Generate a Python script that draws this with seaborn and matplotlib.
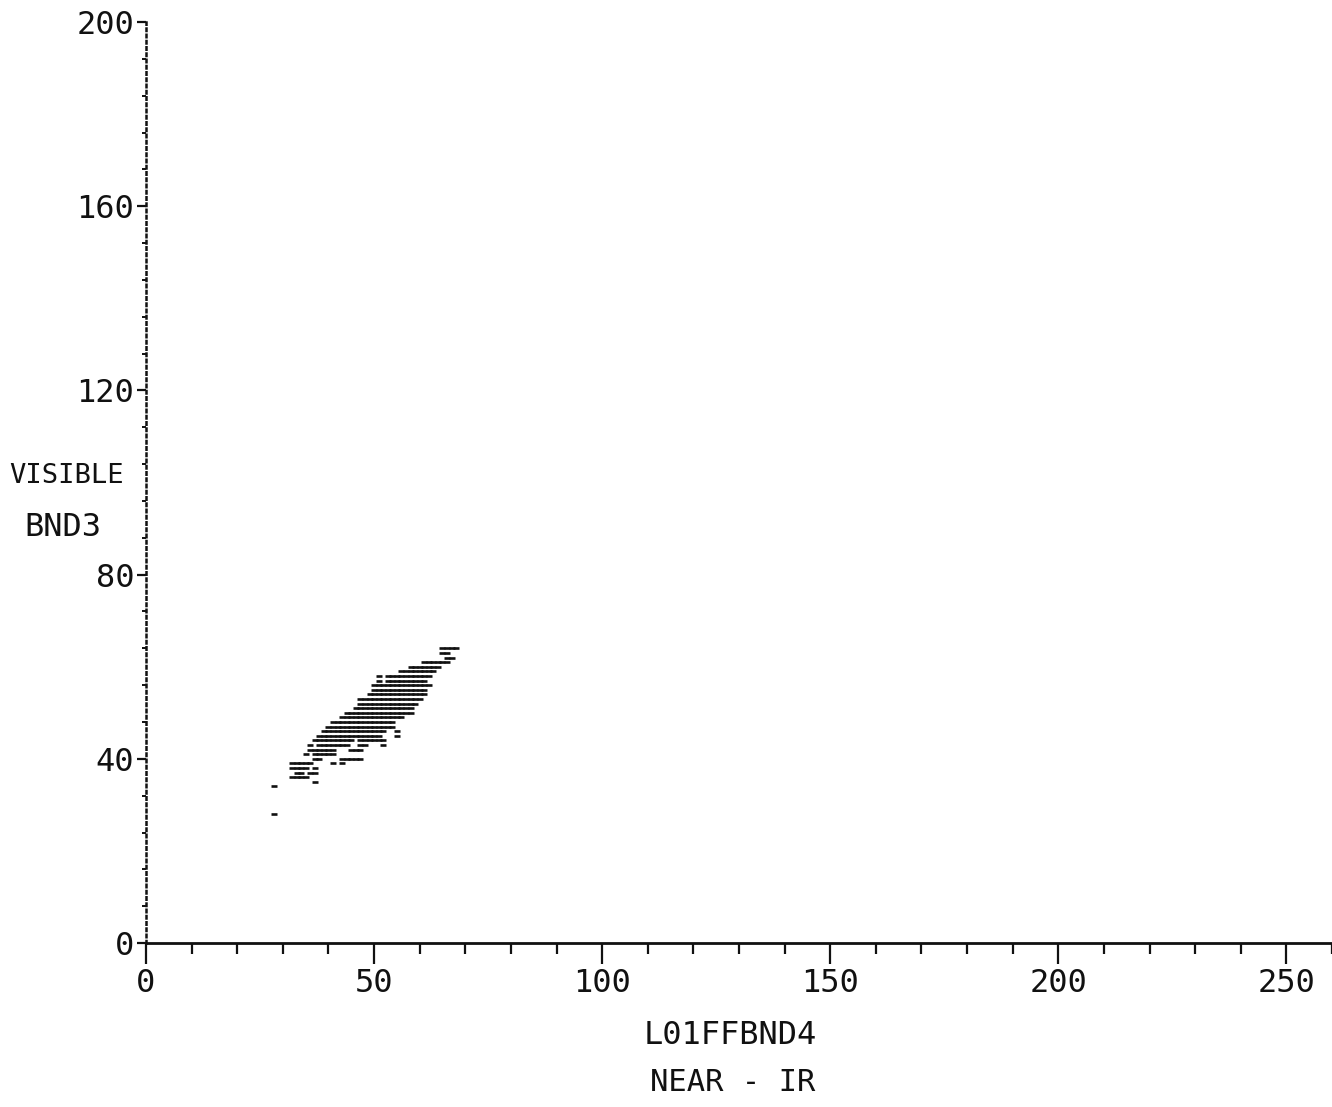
import matplotlib
matplotlib.use("Agg")
import matplotlib.pyplot as plt
from matplotlib.ticker import MultipleLocator
import pandas as pd
import seaborn as sns

# Scan-line runs of the BND4 / BND3 scatter: at each BND3 level the
# plotted BND4 values run from run_start to run_end (inclusive).
run_bnd3 = [64, 63, 62, 61, 60, 59, 58, 58, 57, 57, 56, 55, 54, 53, 52, 51,
            50, 49, 48, 47, 46, 46, 45, 45, 44, 44, 43, 43, 43, 43, 42, 42,
            41, 41, 40, 40, 39, 39, 39, 38, 38, 37, 37, 36, 35, 34, 28]
run_start = [65, 65, 66, 61, 58, 56, 51, 53, 51, 53, 50, 50, 49, 47, 47, 46,
             44, 43, 41, 40, 39, 55, 38, 55, 37, 47, 36, 38, 47, 52, 36, 45,
             35, 37, 37, 43, 32, 41, 43, 32, 37, 33, 36, 32, 37, 28, 28]
run_end = [68, 66, 67, 66, 64, 63, 51, 62, 51, 61, 62, 61, 61, 60, 59, 58,
           58, 56, 54, 54, 52, 55, 51, 55, 45, 52, 36, 44, 48, 52, 41, 47,
           35, 41, 38, 47, 36, 41, 43, 35, 37, 34, 37, 35, 37, 28, 28]

x_ticks = [0, 50, 100, 150, 200, 250]
y_ticks = [0, 40, 80, 120, 160, 200]

x_label = "L01FFBND4"
x_caption = "NEAR - IR"
y_label = "BND3"
y_caption = "VISIBLE"

# Expand every run into individual pixel values
points = [(x, y) for y, a, b in zip(run_bnd3, run_start, run_end)
          for x in range(a, b + 1)]
df = pd.DataFrame(points, columns=["BND4", "BND3"])

sns.set_style("ticks")
plt.rcParams["font.family"] = ["DejaVu Sans Mono", "DejaVu Sans"]

ink = "#111111"
fig = plt.figure(figsize=(13.32, 11.07), dpi=100)
ax = fig.add_axes([0.1096, 0.1481, 0.8904, 0.8320])

sns.scatterplot(data=df, x="BND4", y="BND3", marker="_", s=22,
                linewidth=1.9, color=ink, ax=ax, legend=False)

ax.set_xlim(0, 260)
ax.set_ylim(0, 200)
ax.set_xticks(x_ticks)
ax.set_yticks(y_ticks)
ax.set_xticklabels([str(t) for t in x_ticks])
ax.set_yticklabels([str(t) for t in y_ticks])
ax.xaxis.set_minor_locator(MultipleLocator(10))
ax.yaxis.set_minor_locator(MultipleLocator(8))

ax.tick_params(axis="x", which="major", length=15, width=1.6, pad=3,
               labelsize=23, color=ink, labelcolor=ink)
ax.tick_params(axis="x", which="minor", length=8, width=1.6, color=ink)
ax.tick_params(axis="y", which="major", length=6.5, width=1.6, pad=2,
               labelsize=23, color=ink, labelcolor=ink)
ax.tick_params(axis="y", which="minor", length=3, width=1.4, color=ink)

for side in ("top", "right"):
    ax.spines[side].set_visible(False)
ax.spines["bottom"].set_linewidth(2.0)
ax.spines["bottom"].set_color(ink)
ax.spines["left"].set_linewidth(1.8)
ax.spines["left"].set_linestyle((0, (1, 1.5)))
ax.spines["left"].set_color(ink)

ax.set_xlabel(x_label, fontsize=23, color=ink)
ax.xaxis.set_label_coords(0.4924, -0.100)
ax.xaxis.label.set_va("center")
ax.text(0.495, -0.151, x_caption, transform=ax.transAxes, fontsize=22,
        color=ink, ha="center", va="center")

ax.set_ylabel(y_label, fontsize=23, color=ink, rotation=0)
ax.yaxis.set_label_coords(-0.070, 0.4517)
ax.yaxis.label.set_va("center")
ax.yaxis.label.set_ha("center")
ax.text(-0.0666, 0.507, y_caption, transform=ax.transAxes, fontsize=19.5,
        color=ink, ha="center", va="center")

fig.savefig("out.png", dpi=100, facecolor="white")
